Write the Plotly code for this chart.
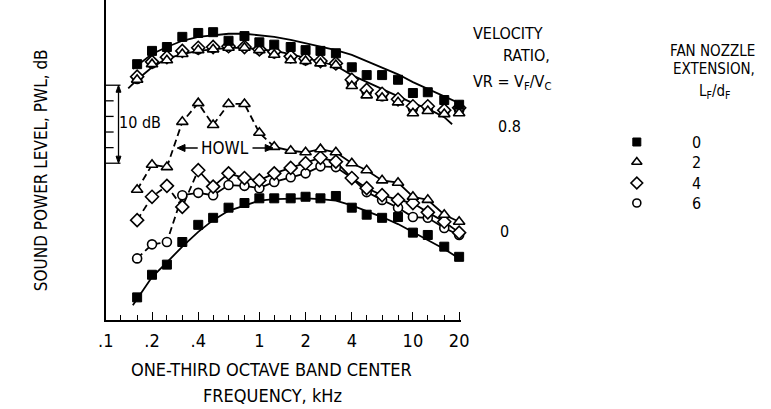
import plotly.graph_objects as go

FONT = "Liberation Sans Narrow, DejaVu Sans Condensed, Arial Narrow, sans-serif"

# 1/3-octave band centre frequencies, kHz
freq = [0.16, 0.2, 0.25, 0.315, 0.4, 0.5, 0.63, 0.8, 1.0, 1.25, 1.6, 2.0,
        2.5, 3.15, 4.0, 5.0, 6.3, 8.0, 10.0, 12.5, 16.0, 20.0]

# Velocity ratio 0.8 (upper family), PWL dB
vr08_L0 = [92.8, 94.5, 95.0, 96.3, 96.8, 96.9, 95.8, 96.4, 95.6, 95.3, 95.0, 94.6,
           94.5, 94.2, 92.4, 91.4, 91.4, 90.8, 89.1, 89.2, 88.2, 87.6]
vr08_L2 = [90.8, 92.8, 93.3, 94.1, 94.6, 94.7, 94.9, 94.9, 94.6, 94.0, 93.3, 93.2,
           92.9, 92.7, 90.0, 88.8, 88.5, 87.9, 86.5, 86.8, 86.4, 86.5]
vr08_L4 = [91.2, 93.1, 93.7, 94.5, 94.9, 95.0, 95.1, 95.0, 94.7, 94.4, 93.8, 93.5,
           93.2, 92.9, 90.8, 89.5, 89.0, 88.3, 87.4, 87.4, 86.9, 87.2]
vr08_L6 = [90.9, 92.9, 93.6, 94.4, 94.7, 94.9, 95.0, 95.0, 94.6, 94.2, 93.6, 93.3,
           93.1, 92.8, 90.4, 89.2, 88.7, 88.2, 87.1, 87.1, 86.7, 86.9]

# Velocity ratio 0 (lower family)
vr0_L0 = [62.9, 65.8, 67.1, 70.0, 72.2, 73.1, 74.4, 75.0, 75.6, 75.6, 75.6, 75.8,
          75.6, 75.9, 74.4, 73.5, 73.1, 73.2, 71.2, 70.9, 69.4, 68.1]
vr0_L2 = [76.7, 79.9, 79.6, 85.4, 87.8, 85.0, 87.7, 87.7, 84.0, 82.2, 81.7, 81.5,
          81.9, 81.5, 80.1, 79.2, 77.9, 77.6, 75.8, 75.4, 73.5, 72.6]
vr0_L4 = [72.8, 75.8, 77.2, 74.5, 79.2, 77.1, 78.8, 78.2, 77.9, 78.8, 79.5, 80.1,
          80.8, 80.3, 78.2, 76.9, 76.0, 75.4, 75.0, 73.8, 72.6, 71.2]
vr0_L6 = [67.9, 69.7, 70.0, 76.0, 76.3, 76.0, 77.3, 77.2, 76.9, 77.7, 78.3, 78.8,
          79.7, 79.6, 78.2, 76.4, 75.4, 74.4, 73.2, 73.1, 71.8, 70.9]

# faired curves
fair_top_sq_f = [0.15, 0.2, 0.25, 0.315, 0.4, 0.5, 0.63, 0.8, 1.0, 1.25, 1.6, 2.0,
                 2.5, 3.15, 4.0, 5.0, 6.3, 8.0, 10.0, 12.5, 16.0, 20.0, 21.0]
fair_top_sq = [92.2, 94.1, 95.0, 95.8, 96.3, 96.5, 96.7, 96.7, 96.5, 96.3, 95.9, 95.5,
               95.1, 94.6, 94.0, 93.2, 92.4, 91.5, 90.5, 89.6, 88.7, 87.8, 87.6]
fair_top_open_f = [0.14, 0.16, 0.2, 0.25, 0.315, 0.4, 0.5, 0.63, 0.8, 1.0, 1.25, 1.6,
                   2.0, 2.5, 3.15, 4.0, 5.0, 6.3, 8.0, 10.0, 12.5, 16.0, 18.0]
fair_top_open = [89.7, 90.8, 92.4, 93.5, 94.1, 94.5, 94.7, 94.9, 94.9, 94.7, 94.5, 94.1,
                 93.6, 93.1, 92.6, 91.4, 90.5, 89.6, 88.7, 87.8, 87.1, 86.0, 85.1]
fair_bot_sq_f = [0.15, 0.2, 0.25, 0.315, 0.4, 0.5, 0.63, 0.8, 1.0, 1.25, 1.6, 2.0,
                 2.5, 3.15, 4.0, 5.0, 6.3, 8.0, 10.0, 12.5, 16.0, 20.0]
fair_bot_sq = [61.9, 65.5, 67.4, 69.4, 71.3, 72.8, 74.0, 74.7, 75.3, 75.5, 75.6, 75.6,
               75.5, 75.3, 74.7, 74.0, 73.2, 72.3, 71.3, 70.3, 69.1, 67.9]

# index where the dashed (howl) part of each VR=0 open series ends
howl_end = {"L2": 9, "L4": 4, "L6": 3}

band_ticks = [0.1, 0.125, 0.16, 0.2, 0.25, 0.315, 0.4, 0.5, 0.63, 0.8, 1.0, 1.25, 1.6,
              2.0, 2.5, 3.15, 4.0, 5.0, 6.3, 8.0, 10.0, 12.5, 16.0, 20.0]
major_vals = [0.1, 0.2, 0.4, 1.0, 2.0, 4.0, 10.0, 20.0]
major_text = [".1", ".2", ".4", "1", "2", "4", "10", "20"]
minor_vals = [v for v in band_ticks if v not in major_vals]

legend_vals = ["0", "2", "4", "6"]

W, H = 771, 409
LINE_W = 1.8
fig = go.Figure()


def line(x, y, dash="solid"):
    fig.add_trace(go.Scatter(x=x, y=y, mode="lines", showlegend=False, hoverinfo="skip",
                             line=dict(color="black", width=LINE_W, dash=dash)))


SYM = {
    "L0": dict(symbol="square", size=9, color="black", line=dict(color="black", width=1)),
    "L2": dict(symbol="triangle-up", size=10, color="white", line=dict(color="black", width=1.6)),
    "L4": dict(symbol="diamond", size=10, color="white", line=dict(color="black", width=1.6)),
    "L6": dict(symbol="circle", size=9, color="white", line=dict(color="black", width=1.6)),
}


def markers(x, y, key, xa="x", ya="y"):
    fig.add_trace(go.Scatter(x=x, y=y, mode="markers", showlegend=False, hoverinfo="skip",
                             marker=SYM[key], xaxis=xa, yaxis=ya, cliponaxis=False))


# faired solid curves
line(fair_top_sq_f, fair_top_sq)
line(fair_top_open_f, fair_top_open)
line(fair_bot_sq_f, fair_bot_sq)

# VR = 0 open series: dashed through howl region, then solid
for key, ser in (("L2", vr0_L2), ("L4", vr0_L4), ("L6", vr0_L6)):
    k = howl_end[key]
    line(freq[:k + 1], ser[:k + 1], dash="7px,4px")
    line(freq[k:], ser[k:])

for key, ser in (("L6", vr08_L6), ("L4", vr08_L4), ("L2", vr08_L2), ("L0", vr08_L0)):
    markers(freq, ser, key)
for key, ser in (("L6", vr0_L6), ("L4", vr0_L4), ("L2", vr0_L2), ("L0", vr0_L0)):
    markers(freq, ser, key)

# legend symbols on the pixel overlay axis
leg_x = 643
leg_rows = [142, 162, 183, 203]
for key, yy in zip(["L0", "L2", "L4", "L6"], leg_rows):
    fig.add_trace(go.Scatter(x=[leg_x], y=[yy], mode="markers", showlegend=False,
                             hoverinfo="skip", xaxis="x2", yaxis="y2", cliponaxis=False,
                             marker=dict(SYM[key], size=SYM[key]["size"] - 1)))

ann = []


def txt(x, y, s, size=17, anchor="center"):
    ann.append(dict(xref="x2", yref="y2", x=x, y=y, text=s, showarrow=False,
                    xanchor=anchor, yanchor="middle",
                    font=dict(family=FONT, size=size, color="black")))


txt(269, 369, "ONE-THIRD OCTAVE BAND CENTER", size=18)
txt(270, 395, "FREQUENCY, kHz", size=18)
ann.append(dict(xref="x2", yref="y2", x=34, y=170, text="SOUND POWER LEVEL, PWL, dB",
                textangle=-90, showarrow=False, xanchor="center", yanchor="middle",
                font=dict(family=FONT, size=17, color="black")))
txt(511, 33, "VELOCITY", size=16)
txt(530, 55, "RATIO,", size=16)
txt(515, 82, "VR = V<sub>F</sub>/V<sub>C</sub>", size=16)
txt(513, 126, "0.8", size=16)
txt(508, 231, "0", size=16)
txt(720, 51, "FAN NOZZLE", size=15)
txt(722, 69, "EXTENSION,", size=15)
txt(723, 91, "L<sub>F</sub>/d<sub>F</sub>", size=15)
for v, yy in zip(legend_vals, leg_rows):
    txt(704, yy, v, size=16)
txt(222, 148, "HOWL", size=17)
txt(135, 122, "10 dB", size=16)

shapes = []
BLK = dict(color="black", width=1.5)

# HOWL arrows (pixel overlay coordinates)
for head, tail in ((173, 194), (271, 250)):
    d = 1 if tail > head else -1
    shapes.append(dict(type="line", xref="x2", yref="y2", x0=tail, x1=head + d * 4,
                       y0=148, y1=148, line=BLK))
    shapes.append(dict(type="path", xref="x2", yref="y2",
                       path=f"M{head},148 L{head + d * 8},144.5 L{head + d * 8},151.5 Z",
                       fillcolor="black", line=dict(color="black", width=1)))

# 10 dB scale bracket, drawn in data units of the level axis
br_lo, br_span, br_step = 80.1, 10.0, 2.0
n = int(br_span / br_step)
for i in range(n + 1):
    yy = br_lo + i * br_step
    x1 = 115 if i in (0, n) else 108
    shapes.append(dict(type="line", xref="x2", yref="y", x0=100, x1=x1, y0=yy, y1=yy,
                       line=dict(color="black", width=1.3)))
br_hi = br_lo + br_span
ah = 0.9  # arrowhead length in dB
shapes.append(dict(type="line", xref="x2", yref="y", x0=113, x1=113, y0=br_lo + ah,
                   y1=br_hi - ah, line=dict(color="black", width=1.3)))
shapes.append(dict(type="path", xref="x2", yref="y",
                   path=f"M113,{br_hi} L110.5,{br_hi - ah} L115.5,{br_hi - ah} Z",
                   fillcolor="black", line=dict(color="black", width=1)))
shapes.append(dict(type="path", xref="x2", yref="y",
                   path=f"M113,{br_lo} L110.5,{br_lo + ah} L115.5,{br_lo + ah} Z",
                   fillcolor="black", line=dict(color="black", width=1)))

fig.update_layout(
    width=W, height=H, margin=dict(l=0, r=0, t=0, b=0), autosize=False,
    paper_bgcolor="white", plot_bgcolor="rgba(0,0,0,0)",
    showlegend=False, annotations=ann, shapes=shapes,
    xaxis=dict(type="log", domain=[100 / W, 463 / W], range=[-1, 1.3118],
               showline=True, linecolor="black", linewidth=1.5, showgrid=False,
               zeroline=False, ticks="inside", ticklen=8, tickwidth=1.3,
               tickcolor="black", tickmode="array", tickvals=major_vals,
               ticktext=major_text, ticklabelstandoff=4,
               tickfont=dict(family=FONT, size=18, color="black"),
               minor=dict(tickmode="array", tickvals=minor_vals, ticks="inside",
                          ticklen=5, tickwidth=1.2, tickcolor="black", showgrid=False)),
    yaxis=dict(domain=[(H - 320) / H, 1], range=[60, 60 + 320 / 7.8],
               showline=True, linecolor="black", linewidth=1.5, showgrid=False,
               zeroline=False, showticklabels=False, ticks=""),
    xaxis2=dict(domain=[0, 1], range=[0, W], visible=False, anchor="y2"),
    yaxis2=dict(domain=[0, 1], range=[H, 0], visible=False, anchor="x2"),
)

fig.write_html("out.html", config={"displayModeBar": False},
               post_script="document.body.style.margin='0px';"
                           "document.body.style.overflow='hidden';")
